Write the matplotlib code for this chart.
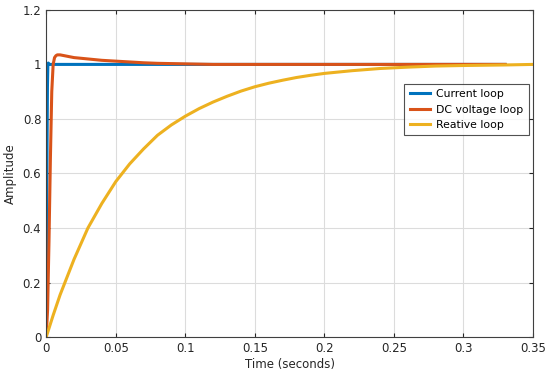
import matplotlib
matplotlib.use('Agg')
import matplotlib.pyplot as plt

# Step responses
t_cur = [0, 0.0003, 0.0006, 0.0009, 0.0012, 0.0015, 0.002, 0.33]
y_cur = [0, 0.35, 0.7, 0.92, 1.0, 1.005, 1.0, 1.0]

t_dc = [0, 0.001, 0.002, 0.003, 0.004, 0.005, 0.006, 0.007, 0.008, 0.01, 0.012,
        0.015, 0.02, 0.03, 0.04, 0.05, 0.06, 0.07, 0.08, 0.1, 0.12, 0.33]
y_dc = [0, 0.1, 0.35, 0.65, 0.9, 1.0, 1.025, 1.032, 1.035, 1.035, 1.033,
        1.03, 1.025, 1.02, 1.015, 1.012, 1.009, 1.006, 1.004, 1.002, 1.0, 1.0]

t_re = [0, 0.005, 0.01, 0.02, 0.03, 0.04, 0.05, 0.06, 0.07, 0.08, 0.09, 0.1,
        0.11, 0.12, 0.13, 0.14, 0.15, 0.16, 0.17, 0.18, 0.19, 0.2, 0.22, 0.24,
        0.26, 0.28, 0.3, 0.33, 0.35]
y_re = [0, 0.08, 0.155, 0.285, 0.40, 0.49, 0.57, 0.635, 0.69, 0.74, 0.778, 0.81,
        0.838, 0.862, 0.883, 0.902, 0.918, 0.931, 0.942, 0.952, 0.96, 0.967, 0.977,
        0.985, 0.99, 0.994, 0.996, 0.998, 1.0]

labels = ['Current loop', 'DC voltage loop', 'Reative loop']
colors = ['#0072BD', '#D95319', '#EDB120']

fig = plt.figure(figsize=(5.5, 3.8), dpi=100)
ax = fig.add_axes([0.084, 0.113, 0.885, 0.861])

ax.plot(t_cur, y_cur, color=colors[0], lw=2.2, label=labels[0])
ax.plot(t_dc, y_dc, color=colors[1], lw=2.2, label=labels[1])
ax.plot(t_re, y_re, color=colors[2], lw=2.2, label=labels[2])

ax.set_xlim(0, 0.35)
ax.set_ylim(0, 1.2)
ax.set_xticks([0, 0.05, 0.1, 0.15, 0.2, 0.25, 0.3, 0.35])
ax.set_xticklabels(['0', '0.05', '0.1', '0.15', '0.2', '0.25', '0.3', '0.35'])
ax.set_yticks([0, 0.2, 0.4, 0.6, 0.8, 1, 1.2])
ax.set_yticklabels(['0', '0.2', '0.4', '0.6', '0.8', '1', '1.2'])

ax.grid(True, color='#dcdcdc', lw=0.8)
ax.set_axisbelow(True)
for s in ax.spines.values():
    s.set_color('#404040')
    s.set_linewidth(0.8)
ax.tick_params(direction='in', length=3, labelsize=8.5, colors='#262626',
               top=True, right=True)

ax.set_xlabel('Time (seconds)', fontsize=8.5, color='#262626', labelpad=2)
ax.set_ylabel('Amplitude', fontsize=8.5, color='#262626', labelpad=4)

leg = ax.legend(loc='upper right', bbox_to_anchor=(0.991, 0.774), fontsize=7.8,
                frameon=True, fancybox=False, edgecolor='#262626',
                handlelength=1.9, handletextpad=0.5, borderpad=0.5,
                labelspacing=0.5, borderaxespad=0)
leg.get_frame().set_linewidth(0.8)

fig.savefig('out.png', dpi=100)
